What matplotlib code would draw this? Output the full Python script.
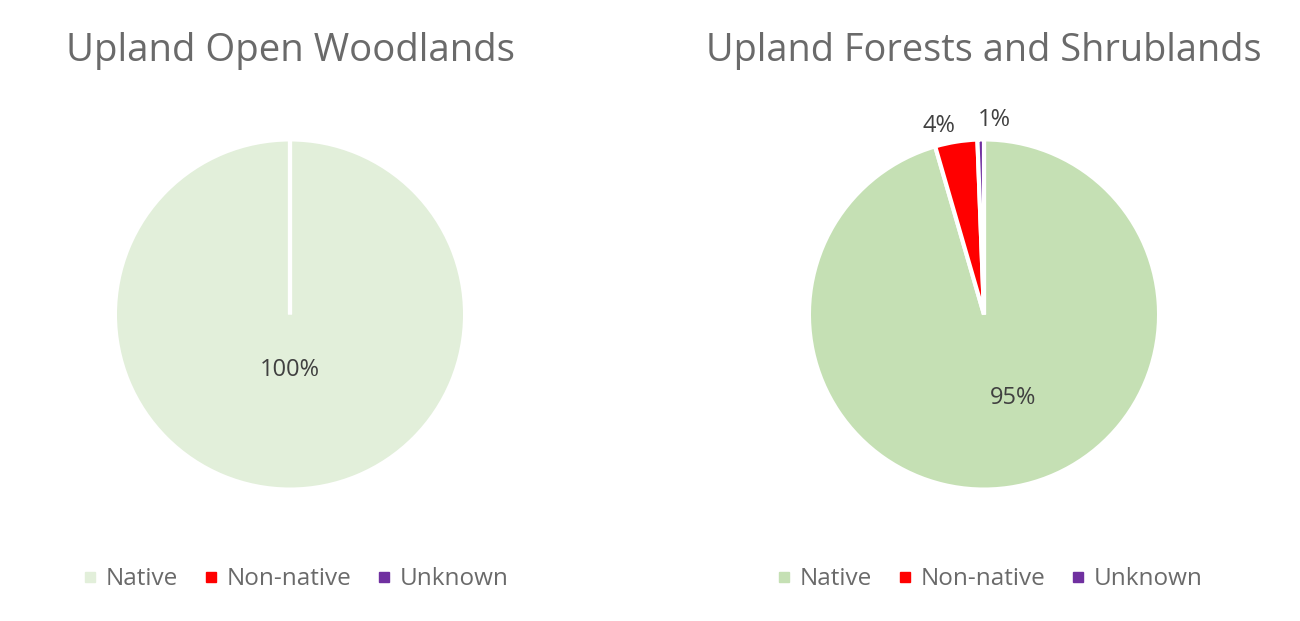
import matplotlib
matplotlib.use("Agg")
import matplotlib.pyplot as plt
from matplotlib.lines import Line2D

plt.rcParams['font.family'] = ['Open Sans', 'DejaVu Sans']

categories = ["Native", "Non-native", "Unknown"]
titles = ["Upland Open Woodlands", "Upland Forests and Shrublands"]
open_woodlands = [100.0, 0.0, 0.0]
forests_shrublands = [95.5, 3.9, 0.6]
labels_open = ["100%", "", ""]
labels_forest = ["95%", "4%", "1%"]

colors_open = ["#E2EFDA", "#FF0000", "#7030A0"]
colors_forest = ["#C5E0B4", "#FF0000", "#7030A0"]

W, H = 1300, 621
fig = plt.figure(figsize=(W / 100, H / 100), dpi=100)
fig.patch.set_facecolor("white")

title_color = "#6A6A6A"
text_color = "#404040"
legend_color = "#6A6A6A"


def make_pie(left_px, values, colors, labels, title, label_r, title_size):
    ax = fig.add_axes([left_px / W, 133 / H, 346 / W, 347 / H])
    wedges, texts = ax.pie(values, colors=colors, startangle=90, counterclock=False,
                           labels=labels, labeldistance=0.5, radius=1.012,
                           wedgeprops=dict(edgecolor="white", linewidth=3))
    for t, r in zip(texts, label_r):
        x, y = t.get_position()
        t.set_position((x / 0.5 * r[0] + r[1], y / 0.5 * r[0] + r[2]))
        t.set_ha("center")
        t.set_va("center")
        t.set_fontsize(17)
        t.set_color(text_color)
    ax.set_xlim(-1, 1)
    ax.set_ylim(-1, 1)
    ax.set_aspect("equal")
    ax.axis("off")
    ax.text(0.5, 1.263, title, transform=ax.transAxes, ha="center", va="center",
            fontsize=title_size, color=title_color)
    handles = [Line2D([0], [0], marker="s", linestyle="none", markersize=7,
                      markerfacecolor=c, markeredgecolor=c) for c in colors]
    ax.legend(handles, categories, loc="center", bbox_to_anchor=(0.515, -0.265),
              ncol=3, frameon=False, fontsize=17.5, labelcolor=legend_color,
              handlelength=0.7, handletextpad=0.3, columnspacing=1.0)
    return ax


make_pie(117, open_woodlands, colors_open, labels_open, titles[0],
         [(0.3, 0.0, -0.015), (0.3, 0.0, 0.0), (0.3, 0.0, 0.0)], 27.6)
make_pie(811, forests_shrublands, colors_forest, labels_forest, titles[1],
         [(0.48, 0.1, 0.0), (1.13, -0.08, -0.04), (1.12, 0.08, -0.01)], 27.3)

fig.savefig("out.png", dpi=100, facecolor="white")
